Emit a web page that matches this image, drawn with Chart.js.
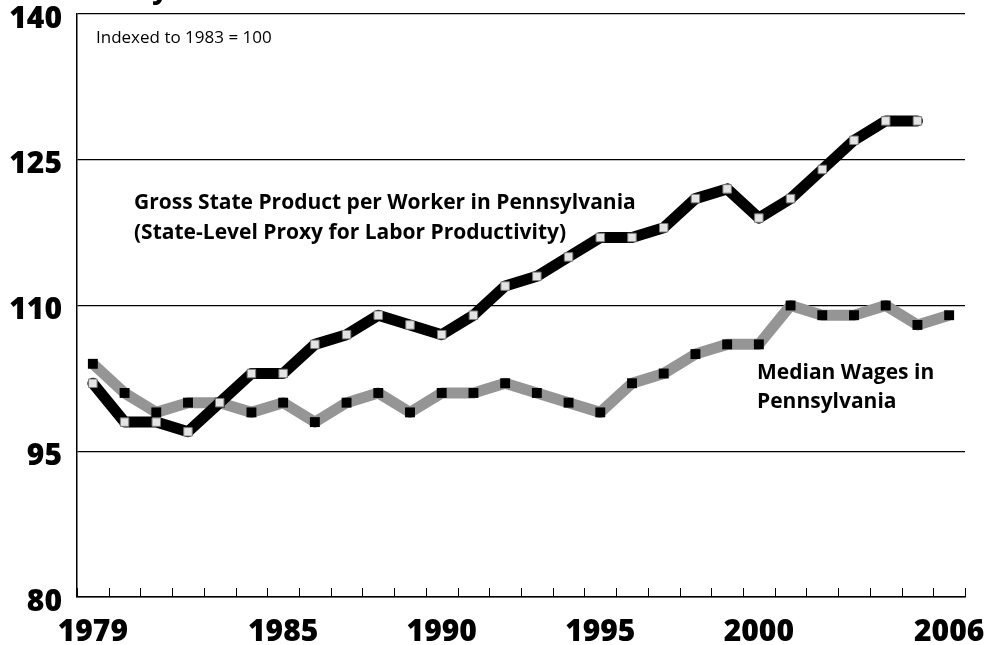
<!DOCTYPE html>
<html>
<head>
<meta charset="utf-8">
<script src="https://cdn.jsdelivr.net/npm/chart.js@4.4.1/dist/chart.umd.min.js"></script>
<style>
  html, body { margin: 0; padding: 0; background: #fff; }
  #wrap { width: 987px; height: 645px; }
</style>
</head>
<body>
<div id="wrap"><canvas id="chart" width="987" height="645"></canvas></div>
<script>
// Data (indexed to 1983 = 100)
const years = [1979, 1980, 1981, 1982, 1983, 1984, 1985, 1986, 1987, 1988, 1989, 1990, 1991, 1992,
  1993, 1994, 1995, 1996, 1997, 1998, 1999, 2000, 2001, 2002, 2003, 2004, 2005, 2006]
const shownYears = [1979, 1985, 1990, 1995, 2000, 2006]
const gspPerWorker = [102, 98, 98, 97, 100, 103, 103, 106, 107, 109, 108, 107, 109, 112,
  113, 115, 117, 117, 118, 121, 122, 119, 121, 124, 127, 129, 129, null]
const medianWages = [104, 101, 99, 100, 100, 99, 100, 98, 100, 101, 99, 101, 101, 102,
  101, 100, 99, 102, 103, 105, 106, 106, 110, 109, 109, 110, 108, 109]
const yTicks = [80, 95, 110, 125, 140]

const FONT = "'Open Sans', 'Noto Sans', sans-serif"

// x tick marks point up into the plot, drawn at the category boundaries
const innerTicks = {
  id: 'innerTicks',
  afterDraw(chart) {
    const { ctx, scales: { x }, chartArea } = chart
    ctx.save()
    ctx.strokeStyle = '#000'
    ctx.lineWidth = 1
    for (let i = 0; i <= years.length; i++) {
      const px = Math.round(x.getPixelForValue(i - 0.5)) + 0.5
      ctx.beginPath()
      ctx.moveTo(px, chartArea.bottom)
      ctx.lineTo(px, chartArea.bottom - 9)
      ctx.stroke()
    }
    ctx.restore()
  }
}

// Text labels placed on the plot
const annotations = {
  id: 'annotations',
  afterDraw(chart) {
    const ctx = chart.ctx
    ctx.save()
    ctx.fillStyle = '#000'
    ctx.textAlign = 'left'
    ctx.textBaseline = 'alphabetic'

    // cut-off title at the very top
    ctx.font = `bold 30px ${FONT}`
    ctx.fillText('Pennsylvania', 61, -2)

    ctx.font = `17px ${FONT}`
    ctx.fillText('Indexed to 1983 = 100', 96, 43, 180)

    ctx.font = `bold 21px ${FONT}`
    ctx.fillText('Gross State Product per Worker in Pennsylvania', 134, 209, 524)
    ctx.fillText('(State-Level Proxy for Labor Productivity)', 134, 239, 444)
    ctx.fillText('Median Wages in', 757, 379, 182)
    ctx.fillText('Pennsylvania', 757, 408, 148)
    ctx.restore()
  }
}

const ctx = document.getElementById('chart').getContext('2d')
new Chart(ctx, {
  type: 'line',
  data: {
    labels: years,
    datasets: [
      {
        label: 'Gross State Product per Worker in Pennsylvania',
        data: gspPerWorker,
        borderColor: '#000',
        borderWidth: 11,
        borderJoinStyle: 'round',
        borderCapStyle: 'round',
        pointStyle: 'rect',
        pointRadius: 6,
        pointBackgroundColor: '#e4e4e4',
        pointBorderColor: '#7a7a7a',
        pointBorderWidth: 1,
        tension: 0
      },
      {
        label: 'Median Wages in Pennsylvania',
        data: medianWages,
        borderColor: '#959595',
        borderWidth: 11,
        borderJoinStyle: 'round',
        borderCapStyle: 'butt',
        pointStyle: 'rect',
        pointRadius: 7,
        pointBackgroundColor: '#000',
        pointBorderColor: '#000',
        pointBorderWidth: 0,
        tension: 0
      }
    ]
  },
  options: {
    responsive: false,
    animation: false,
    devicePixelRatio: 1,
    layout: { padding: { top: 14, right: 22, left: 0, bottom: 0 } },
    plugins: {
      legend: { display: false },
      tooltip: { enabled: false }
    },
    scales: {
      x: {
        type: 'category',
        offset: true,
        grid: { display: false, drawTicks: false },
        border: { display: true, color: '#000', width: 1.5 },
        ticks: {
          autoSkip: false,
          maxRotation: 0,
          padding: 17,
          color: '#000',
          font: { family: FONT, size: 30, weight: '800' },
          callback: (v, i) => shownYears.includes(years[i]) ? String(years[i]) : ''
        },
        afterFit: s => {
          s.height = 48
          s.paddingLeft = 0
          s.paddingRight = 0
        }
      },
      y: {
        min: 80,
        max: 140,
        afterBuildTicks: s => { s.ticks = yTicks.map(v => ({ value: v })) },
        grid: { color: '#000', lineWidth: 1.2, drawTicks: false },
        border: { display: true, color: '#000', width: 1.5 },
        ticks: {
          padding: 15,
          labelOffset: 5,
          color: '#000',
          font: { family: FONT, size: 30, weight: '800' }
        },
        afterFit: s => {
          s.width = 77
          s.paddingTop = 0
          s.paddingBottom = 0
        }
      }
    }
  },
  plugins: [innerTicks, annotations]
})
</script>
</body>
</html>
